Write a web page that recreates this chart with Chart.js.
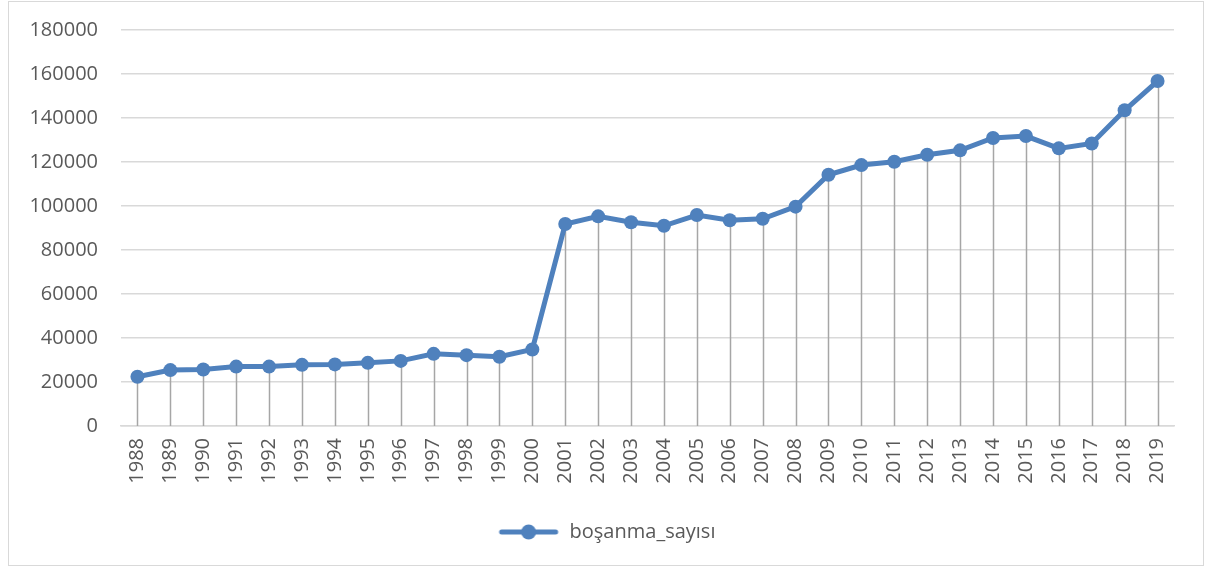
<!DOCTYPE html>
<html>
<head>
<meta charset="utf-8">
<script src="https://cdn.jsdelivr.net/npm/chart.js@4"></script>
<style>
  html, body { margin: 0; padding: 0; background: #fff; }
  #box { position: absolute; left: 8px; top: 1px; width: 1196px; height: 565px; box-sizing: border-box; border: 1px solid #d9d9d9; background: #fff; }
  #wrap { position: absolute; left: 0; top: 0; right: 0; bottom: 0; }
</style>
</head>
<body>
<div id="box"><div id="wrap"><canvas id="c"></canvas></div></div>
<script>
const years = ['1988','1989','1990','1991','1992','1993','1994','1995','1996','1997','1998','1999','2000','2001','2002','2003','2004','2005','2006','2007','2008','2009','2010','2011','2012','2013','2014','2015','2016','2017','2018','2019'];
const divorces = [22400, 25400, 25700, 27000, 27000, 27800, 28000, 28700, 29600, 32800, 32200, 31500, 34800, 91800, 95300, 92600, 91000, 95900, 93500, 94200, 99700, 114200, 118600, 120100, 123300, 125300, 130900, 131800, 126200, 128400, 143500, 156800];
const seriesName = 'boşanma_sayısı';
const yTicks = { min: 0, max: 180000, step: 20000 };

const lineColor = '#4f81bd';
const FONT = { family: 'Open Sans', size: 20 };

// legend icon: line with circle (transparent margin on the left to centre the legend on the page)
const ICON_SHIFT = 30;
const icon = document.createElement('canvas');
icon.width = 62 + ICON_SHIFT; icon.height = 18;
(function(){
  const g = icon.getContext('2d');
  const o = ICON_SHIFT;
  g.strokeStyle = lineColor; g.lineWidth = 5; g.lineCap = 'round';
  g.beginPath(); g.moveTo(o + 4, 9); g.lineTo(o + 58, 9); g.stroke();
  g.fillStyle = lineColor;
  g.beginPath(); g.arc(o + 31, 9, 7.5, 0, Math.PI * 2); g.fill();
})();

const dropLines = {
  id: 'dropLines',
  beforeDatasetsDraw(chart) {
    const ctx = chart.ctx;
    const meta = chart.getDatasetMeta(0);
    const ys = chart.scales.y;
    const base = ys.getPixelForValue(0);
    ctx.save();
    ctx.strokeStyle = '#a6a6a6';
    ctx.lineWidth = 1.5;
    meta.data.forEach(pt => {
      ctx.beginPath();
      ctx.moveTo(Math.round(pt.x) + 0.5, pt.y);
      ctx.lineTo(Math.round(pt.x) + 0.5, base);
      ctx.stroke();
    });
    ctx.restore();
  }
};

new Chart(document.getElementById('c'), {
  type: 'line',
  data: {
    labels: years,
    datasets: [{
      label: seriesName,
      data: divorces,
      borderColor: lineColor,
      backgroundColor: lineColor,
      borderWidth: 5,
      pointRadius: 7,
      pointHoverRadius: 7,
      pointBackgroundColor: lineColor,
      pointBorderWidth: 0,
      tension: 0,
      pointStyle: 'circle'
    }]
  },
  options: {
    responsive: true,
    maintainAspectRatio: false,
    animation: false,
    layout: { padding: { left: 0, right: 29, top: 28, bottom: 13 } },
    plugins: {
      legend: {
        position: 'bottom',
        labels: {
          usePointStyle: true,
          pointStyle: icon,
          pointStyleWidth: 62 + ICON_SHIFT,
          color: '#595959',
          font: FONT,
          padding: 10,
          generateLabels(chart) {
            return [{ text: seriesName, pointStyle: icon, fillStyle: lineColor, strokeStyle: lineColor, lineWidth: 0, fontColor: '#595959', hidden: false, datasetIndex: 0 }];
          }
        }
      },
      tooltip: { enabled: false }
    },
    scales: {
      x: {
        offset: true,
        grid: { display: false, drawTicks: false },
        border: { display: true, color: '#d9d9d9', width: 1.5 },
        ticks: {
          color: '#595959',
          font: FONT,
          maxRotation: 90, minRotation: 90,
          autoSkip: false,
          padding: 12
        },
        afterFit(scale) { scale.height = 86; scale.paddingTop = 0; scale.paddingBottom = 0; }
      },
      y: {
        min: yTicks.min, max: yTicks.max,
        grid: { color: '#d9d9d9', lineWidth: 1.5, drawTicks: false },
        border: { display: false },
        ticks: {
          stepSize: yTicks.step,
          color: '#595959',
          font: FONT,
          padding: 23,
          callback: v => String(v)
        },
        afterFit(scale) { scale.width = 112; scale.paddingTop = 0; scale.paddingBottom = 0; }
      }
    }
  },
  plugins: [dropLines]
});
</script>
</body>
</html>
